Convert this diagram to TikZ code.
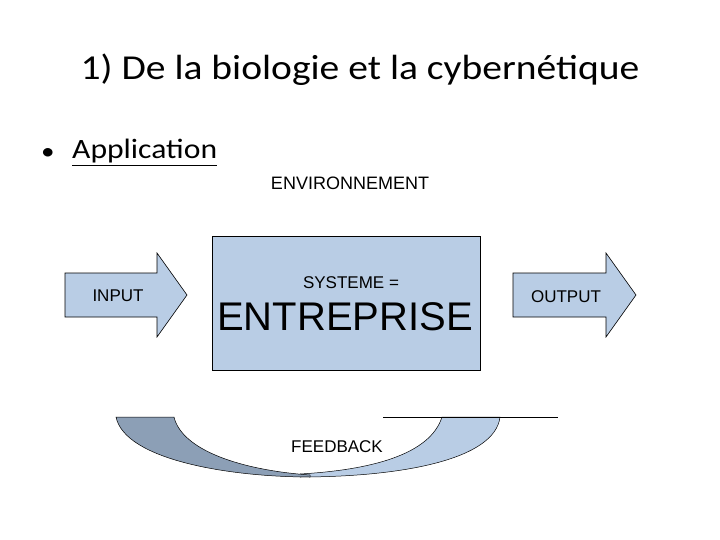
\documentclass[tikz,border=0pt]{standalone}
\usepackage{fontspec}
\setmainfont{Liberation Sans}
\newfontfamily\calibri{Carlito}
\definecolor{boxblue}{RGB}{185,205,229}
\definecolor{slate}{RGB}{140,159,182}
\begin{document}
\begin{tikzpicture}[x=1bp,y=-1bp,
  lbl/.style={font=\fontsize{17bp}{20bp}\selectfont, anchor=base, inner sep=0pt},
  blk/.style={draw=black, line width=0.6bp, fill=boxblue}]
\useasboundingbox (0,0) rectangle (720,540);
% title and bullet
\node[font=\calibri\fontsize{35bp}{40bp}\selectfont, anchor=base, inner sep=0pt] (title) at (360,80) {\scalebox{1.13}[1]{1) De la biologie et la cybernétique}};
\node[font=\calibri\fontsize{24bp}{30bp}\selectfont, anchor=base, inner sep=0pt] (bullet) at (48,160) {\scalebox{1.13}[1]{\textbullet}};
\node[font=\calibri\fontsize{28bp}{32bp}\selectfont, anchor=base west, inner sep=0pt] (appl) at (72,159) {\scalebox{1.13}[1]{\underline{Application}}};

\node[lbl, font=\fontsize{18bp}{20bp}\selectfont] (env) at (350,190) {ENVIRONNEMENT};

% system box
\node[blk, minimum width=268bp, minimum height=134bp, inner sep=0pt] (sys) at (346,303) {};
\node[lbl] (syst) at (351,288) {SYSTEME =};
\node[lbl, font=\fontsize{40bp}{44bp}\selectfont] (entr) at (345,330) {ENTREPRISE};

% input / output arrows
\draw[blk] (65,273) -- (157,273) -- (157,253) -- (187,295) -- (157,337) -- (157,317) -- (65,317) -- cycle;
\node[lbl] (in) at (118,301) {INPUT};
\draw[blk] (513,273) -- (606,273) -- (606,253) -- (636,295) -- (606,337) -- (606,317) -- (513,317) -- cycle;
\node[lbl] (out) at (566,302) {OUTPUT};

% feedback loop
\draw[fill=boxblue, line width=0.5bp] (442,417) -- (500,417) .. controls (495,460) and (400,477) .. (300,477)
  -- (300,474) .. controls (370,470) and (430,455) .. (442,417) -- cycle;
\draw[fill=slate, line width=0.5bp] (116,417) -- (174,417) .. controls (182,450) and (240,470) .. (310,475)
  -- (310,477) .. controls (230,477) and (125,460) .. (116,417) -- cycle;
\draw[line width=0.6bp] (383,417) -- (558,417);
\node[lbl] (fb) at (337,452) {FEEDBACK};
\end{tikzpicture}
\end{document}
